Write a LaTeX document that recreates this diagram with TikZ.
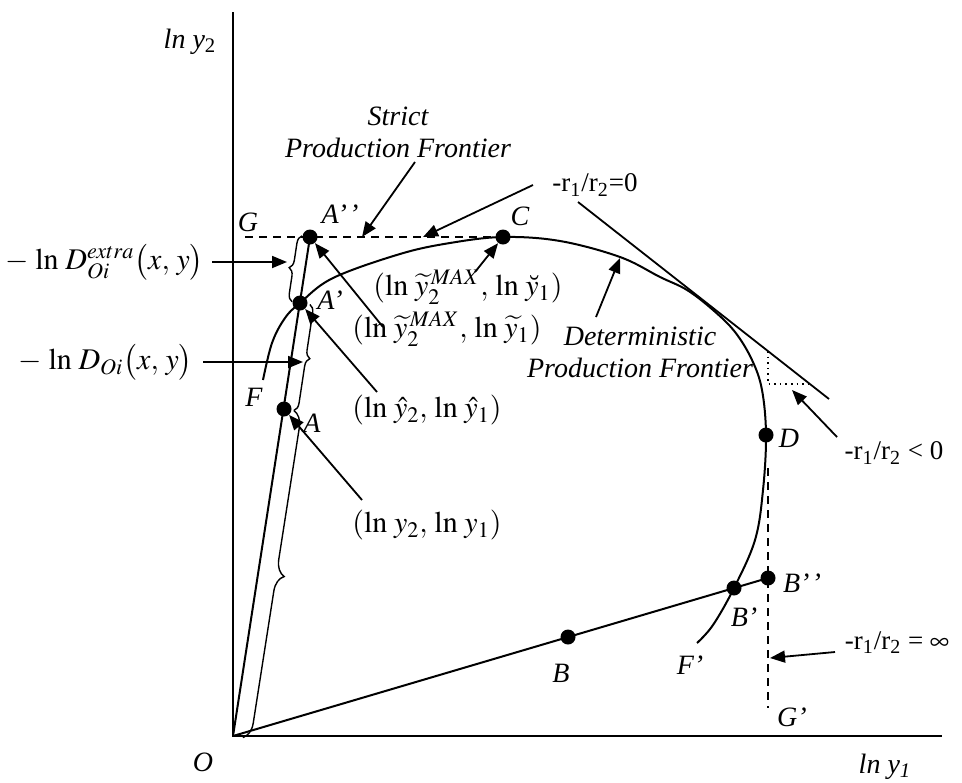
\documentclass[tikz,border=0pt]{standalone}
\usepackage{mathptmx}
\usepackage{fontspec}
\setmainfont{Liberation Serif}
\usetikzlibrary{arrows.meta, decorations.pathreplacing}

\begin{document}
\begin{tikzpicture}[x=0.5pt, y=-0.5pt, >={Triangle[length=7.5pt,width=6pt]},
    every node/.style={font=\fontsize{13.5}{16}\selectfont},
    dot/.style={circle, fill, inner sep=0pt, minimum size=7.5pt},
    lbl/.style={font=\fontsize{14}{16}\selectfont\itshape},
    mth/.style={font=\fontsize{15}{18}\selectfont, inner sep=1pt},
    ptr/.style={->, line width=0.9pt},
    brc/.style={decorate, line width=0.7pt}]
\useasboundingbox (0,0) rectangle (962,782);
\coordinate (O)  at (233,736);
\coordinate (YT) at (233,12);
\coordinate (XR) at (942,736);
\coordinate (A)  at (284,409);
\coordinate (A1) at (300,303);
\coordinate (A2) at (310,237);
\coordinate (C)  at (503,237);
\coordinate (D)  at (766,435);
\coordinate (B)  at (568,637);
\coordinate (B1) at (734,588);
\coordinate (B2) at (768,578);
\coordinate (G)  at (245,237);
\coordinate (GT) at (768,468);
\coordinate (GB) at (768,708);
\coordinate (T1) at (578,202);
\coordinate (T2) at (829,399);
\draw[line width=1pt] (YT) -- (O) -- (XR);
\draw[line width=1pt] (O) -- (A2);
\draw[line width=1pt] (O) -- (B2);
\draw[line width=1pt, dash pattern=on 4pt off 3pt] (G) -- (C);
\draw[line width=1pt, dash pattern=on 4pt off 3pt] (GT) -- (GB);
\draw[line width=1pt] plot[smooth, tension=0.6] coordinates {(263,380) (272,343) (285,318) (300,303) (333,278) (400,254) (450,243) (503,237) (560,241) (620,257) (660,277) (687,290) (713,310) (735,332) (752,360) (762,390) (766,435) (763,490) (755,540) (734,588) (713,625) (697,643)};
\draw[line width=0.9pt] (T1) -- (T2);
\draw[line width=0.8pt, dotted] (768,351) -- (768,384) -- (810,384);
\draw[brc, decoration={brace, amplitude=8pt, raise=5pt}] (A) -- (O);
\draw[brc, decoration={brace, amplitude=4pt, raise=5pt}] (A1) -- (A);
\draw[brc, decoration={brace, amplitude=4pt, raise=4pt}] (A1) -- (A2);
\foreach \p in {A,A1,A2,C,D,B,B1,B2}{
    \node[dot] (d\p) at (\p) {};
}
% point labels
\node[lbl] (lO)  at (203,762) {O};
\node[lbl] (lG)  at (248,222) {G};
\node[lbl] (lA2) at (340,214) {A’\kern1pt’};
\node[lbl] (lC)  at (520,216) {C};
\node[lbl] (lA1) at (330,300) {A’};
\node[lbl] (lA)  at (312,423) {A};
\node[lbl] (lF)  at (254,397) {F};
\node[lbl] (lD)  at (789,438) {D};
\node[lbl] (lB2) at (802,583) {B’\kern1pt’};
\node[lbl] (lB1) at (744,617) {B’};
\node[lbl] (lB)  at (561,673) {B};
\node[lbl] (lF1) at (690,665) {F’};
\node[lbl] (lG1) at (792,717) {G’};
\node[lbl] (ly2) at (190,42) {ln y\textsubscript{\upshape 2}};
\node[lbl] (ly1) at (885,767) {ln y\textsubscript{1}};
% annotations
\node[lbl, align=center] (strict) at (398,132) {Strict\\Production Frontier};
\node[lbl, align=center] (determ) at (640,352) {Deterministic\\Production Frontier};
\node (rzero) at (595,185) {-r\textsubscript{1}/r\textsubscript{2}=0};
\node (rneg)  at (894,453) {-r\textsubscript{1}/r\textsubscript{2} < 0};
\node (rinf)  at (897,643) {-r\textsubscript{1}/r\textsubscript{2} = $\infty$};
\node[mth, anchor=west] (pC)  at (371,287) {$(\ln\,\widetilde{y}_2^{\,MAX},\,\ln\,\breve{y}_1)$};
\node[mth, anchor=west] (pA2) at (350,329) {$(\ln\,\widetilde{y}_2^{\,MAX},\,\ln\,\widetilde{y}_1)$};
\node[mth, anchor=west] (pA1) at (350,410) {$(\ln\,\hat{y}_2,\,\ln\,\hat{y}_1)$};
\node[mth, anchor=west] (pA)  at (350,525) {$(\ln\,y_2,\,\ln\,y_1)$};
\node[mth, anchor=east] (dex) at (206,262) {$-\,\ln\,D_{Oi}^{extra}\bigl(x,\,y\bigr)$};
\node[mth, anchor=east] (doi) at (195,362) {$-\,\ln\,D_{Oi}\bigl(x,\,y\bigr)$};
% arrows
\coordinate (s1) at (415,162);  \coordinate (e1) at (362,237);
\coordinate (s2) at (533,185);  \coordinate (e2) at (423,237);
\coordinate (s3) at (475,272);
\coordinate (s4) at (383,327);
\coordinate (s5) at (377,392);
\coordinate (s6) at (362,500);
\coordinate (s7) at (596,317);  \coordinate (e7) at (620,258);
\coordinate (s8) at (837,437);  \coordinate (e8) at (792,390);
\coordinate (s9) at (835,652);  \coordinate (e9) at (770,658);
\coordinate (s10) at (212,262); \coordinate (e10) at (287,262);
\coordinate (s11) at (203,362); \coordinate (e11) at (303,362);
\draw[ptr] (s1) -- (e1);
\draw[ptr] (s2) -- (e2);
\draw[ptr] (s3) -- (dC);
\draw[ptr] (s4) -- (dA2);
\draw[ptr] (s5) -- (dA1);
\draw[ptr] (s6) -- (dA);
\draw[ptr] (s7) -- (e7);
\draw[ptr] (s8) -- (e8);
\draw[ptr] (s9) -- (e9);
\draw[ptr] (s10) -- (e10);
\draw[ptr] (s11) -- (e11);
\end{tikzpicture}
\end{document}
